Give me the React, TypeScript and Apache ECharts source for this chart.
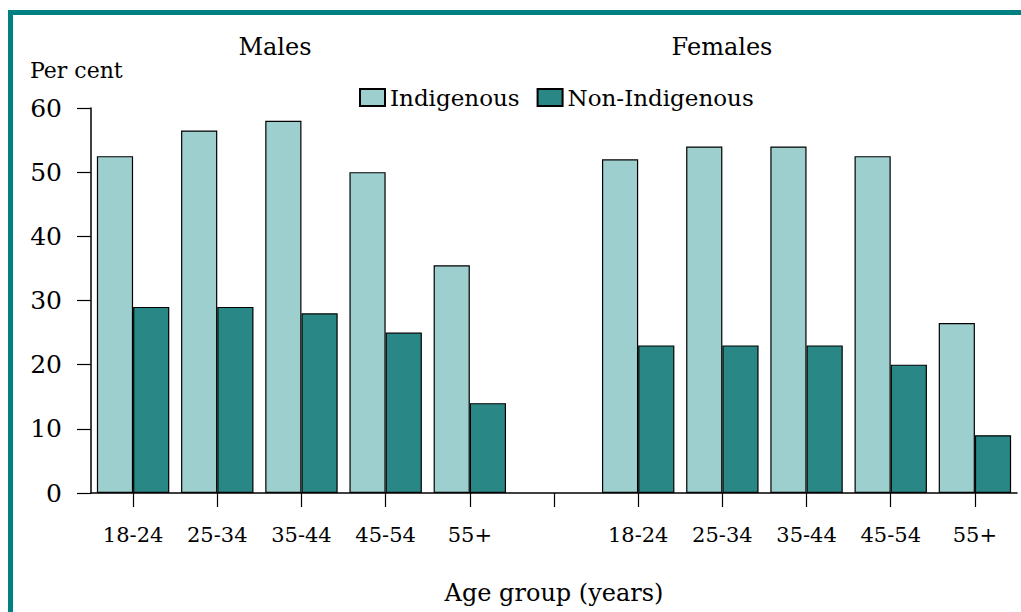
import React, { useEffect, useRef } from "react";
import * as echarts from "echarts";

const categories = ["18-24", "25-34", "35-44", "45-54", "55+", "", "18-24", "25-34", "35-44", "45-54", "55+"];
const indigenous = [52.5, 56.5, 58, 50, 35.5, null, 52, 54, 54, 52.5, 26.5];
const nonIndigenous = [29, 29, 28, 25, 14, null, 23, 23, 23, 20, 9];
const yTicks = [0, 10, 20, 30, 40, 50, 60];

const FONT = "DejaVu Serif";
const LIGHT = "#9ecfcf";
const DARK = "#298785";
const FRAME = "#008080";

export default function App() {
  const ref = useRef<HTMLDivElement>(null);
  useEffect(() => {
    if (!ref.current) return;
    const chart = echarts.init(ref.current, null, { renderer: "svg" });
    chart.setOption({
      animation: false,
      backgroundColor: "#ffffff",
      textStyle: { fontFamily: FONT, color: "#000" },
      grid: { left: 91, right: 4, top: 108, bottom: 119, containLabel: false },
      legend: {
        left: 354,
        top: 81,
        itemWidth: 25,
        itemHeight: 17,
        itemGap: 17,
        icon: "rect",
        textStyle: { fontFamily: FONT, fontSize: 23, color: "#000" },
        data: ["Indigenous", "Non-Indigenous"],
      },
      xAxis: {
        type: "category",
        data: categories,
        name: "Age group (years)",
        nameLocation: "middle",
        nameGap: 88,
        nameTextStyle: { fontFamily: FONT, fontSize: 24, color: "#000" },
        axisLine: { show: true, lineStyle: { color: "#000", width: 1.5 } },
        axisTick: { show: true, alignWithLabel: true, length: 14, lineStyle: { color: "#000", width: 1.2 } },
        axisLabel: { fontFamily: FONT, fontSize: 21, color: "#000", margin: 31, interval: 0 },
      },
      yAxis: {
        type: "value",
        min: yTicks[0],
        max: yTicks[yTicks.length - 1],
        interval: 10,
        splitLine: { show: false },
        axisLine: { show: true, lineStyle: { color: "#000", width: 1.5 } },
        axisTick: { show: true, length: 14, lineStyle: { color: "#000", width: 1.2 } },
        axisLabel: { fontFamily: FONT, fontSize: 25, color: "#000", margin: 29 },
      },
      series: [
        {
          name: "Indigenous",
          type: "bar",
          data: indigenous,
          barGap: "0%",
          barCategoryGap: "14%",
          itemStyle: { color: LIGHT, borderColor: "#000", borderWidth: 1.2 },
        },
        {
          name: "Non-Indigenous",
          type: "bar",
          data: nonIndigenous,
          barGap: "0%",
          barCategoryGap: "14%",
          itemStyle: { color: DARK, borderColor: "#000", borderWidth: 1.2 },
        },
      ],
      graphic: [
        { type: "rect", left: 8, top: 10, shape: { width: 1013, height: 5 }, style: { fill: FRAME } },
        { type: "rect", left: 8, top: 10, shape: { width: 5, height: 602 }, style: { fill: FRAME } },
        {
          type: "text",
          x: 275,
          y: 47,
          style: { text: "Males", font: `24px "${FONT}"`, fill: "#000", align: "center", verticalAlign: "middle" },
        },
        {
          type: "text",
          x: 722,
          y: 47,
          style: { text: "Females", font: `24px "${FONT}"`, fill: "#000", align: "center", verticalAlign: "middle" },
        },
        {
          type: "text",
          x: 30,
          y: 70,
          style: { text: "Per cent", font: `22px "${FONT}"`, fill: "#000", align: "left", verticalAlign: "middle" },
        },
      ],
    });
    return () => chart.dispose();
  }, []);
  return (
    <div
      ref={ref}
      style={{ position: "fixed", left: 0, top: 0, width: 1021, height: 612, background: "#fff" }}
    />
  );
}
